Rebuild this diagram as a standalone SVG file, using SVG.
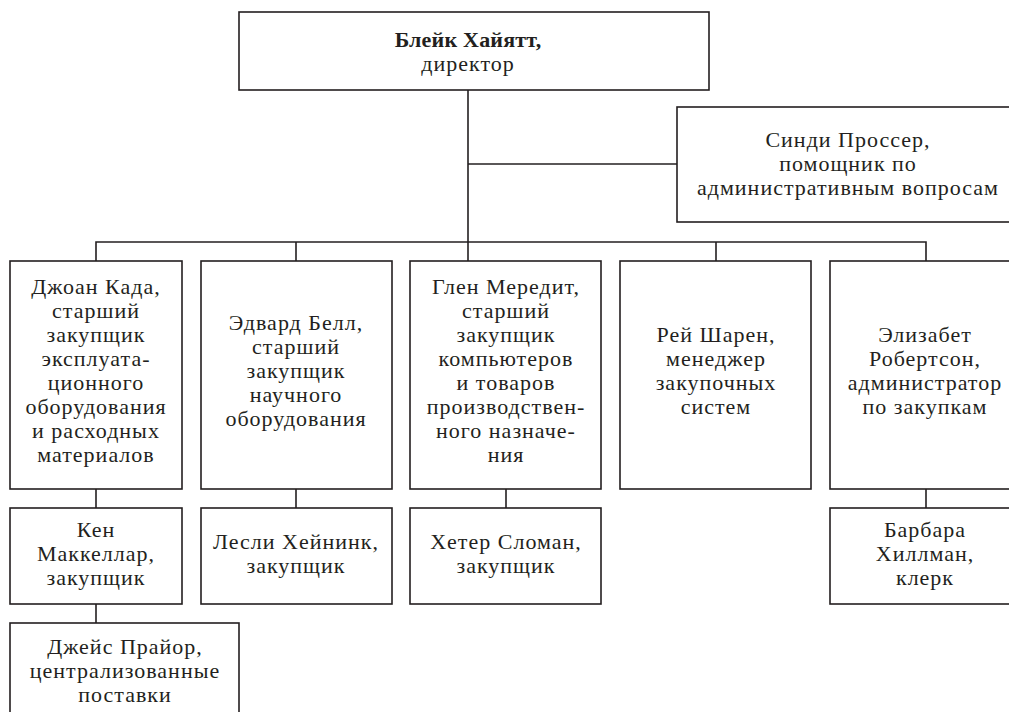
<svg xmlns="http://www.w3.org/2000/svg" width="1009" height="712" viewBox="0 0 1009 712">
  <style>
    .box { fill: #fff; stroke: #231f20; stroke-width: 1.6; }
    .wire { fill: none; stroke: #231f20; stroke-width: 1.6; }
    text { font-family: "Liberation Serif", "DejaVu Serif", serif; font-size: 22px; letter-spacing: 1px; fill: #231f20; text-anchor: middle; }
    .b { font-weight: bold; letter-spacing: 0.2px; }
  </style>
  <rect width="1009" height="712" fill="#fff"/>

  <!-- connectors -->
  <g id="connectors">
    <path class="wire" d="M468 90 V261"/>
    <path class="wire" d="M468 164 H677"/>
    <path class="wire" d="M96 261 V242 H926 V261"/>
    <path class="wire" d="M296 242 V261"/>
    <path class="wire" d="M716 242 V261"/>
    <path class="wire" d="M96 489 V508"/>
    <path class="wire" d="M296 489 V508"/>
    <path class="wire" d="M506 489 V508"/>
    <path class="wire" d="M926 489 V508"/>
    <path class="wire" d="M96 604 V623"/>
  </g>

  <g id="director">
    <rect class="box" x="239" y="12" width="470" height="78"/>
    <text x="468" y="47" class="b">Блейк Хайятт,</text>
    <text x="468" y="71">директор</text>
  </g>

  <g id="assistant">
    <rect class="box" x="677" y="107" width="343" height="115"/>
    <text x="848" y="147">Синди Проссер,</text>
    <text x="848" y="171">помощник по</text>
    <text x="848" y="195">административным вопросам</text>
  </g>

  <g id="kada">
    <rect class="box" x="10" y="261" width="172" height="228"/>
    <text x="96" y="294">Джоан Када,</text>
    <text x="96" y="318">старший</text>
    <text x="96" y="342">закупщик</text>
    <text x="96" y="366">эксплуата-</text>
    <text x="96" y="390">ционного</text>
    <text x="96" y="414">оборудования</text>
    <text x="96" y="438">и расходных</text>
    <text x="96" y="462">материалов</text>
  </g>

  <g id="bell">
    <rect class="box" x="201" y="261" width="191" height="228"/>
    <text x="296" y="330">Эдвард Белл,</text>
    <text x="296" y="354">старший</text>
    <text x="296" y="378">закупщик</text>
    <text x="296" y="402">научного</text>
    <text x="296" y="426">оборудования</text>
  </g>

  <g id="meredith">
    <rect class="box" x="410" y="261" width="191" height="228"/>
    <text x="506" y="294">Глен Мередит,</text>
    <text x="506" y="318">старший</text>
    <text x="506" y="342">закупщик</text>
    <text x="506" y="366">компьютеров</text>
    <text x="506" y="390">и товаров</text>
    <text x="506" y="414">производствен-</text>
    <text x="506" y="438">ного назначе-</text>
    <text x="506" y="462">ния</text>
  </g>

  <g id="sharen">
    <rect class="box" x="620" y="261" width="191" height="228"/>
    <text x="716" y="342">Рей Шарен,</text>
    <text x="716" y="366">менеджер</text>
    <text x="716" y="390">закупочных</text>
    <text x="716" y="414">систем</text>
  </g>

  <g id="robertson">
    <rect class="box" x="830" y="261" width="190" height="228"/>
    <text x="925" y="342">Элизабет</text>
    <text x="925" y="366">Робертсон,</text>
    <text x="925" y="390">администратор</text>
    <text x="925" y="414">по закупкам</text>
  </g>

  <g id="mackellar">
    <rect class="box" x="10" y="508" width="172" height="96"/>
    <text x="96" y="537">Кен</text>
    <text x="96" y="561">Маккеллар,</text>
    <text x="96" y="585">закупщик</text>
  </g>

  <g id="heinink">
    <rect class="box" x="201" y="508" width="191" height="96"/>
    <text x="296" y="549">Лесли Хейнинк,</text>
    <text x="296" y="573">закупщик</text>
  </g>

  <g id="sloman">
    <rect class="box" x="410" y="508" width="191" height="96"/>
    <text x="506" y="549">Хетер Сломан,</text>
    <text x="506" y="573">закупщик</text>
  </g>

  <g id="hillman">
    <rect class="box" x="830" y="508" width="190" height="96"/>
    <text x="925" y="537">Барбара</text>
    <text x="925" y="561">Хиллман,</text>
    <text x="925" y="585">клерк</text>
  </g>

  <g id="pryor">
    <rect class="box" x="10" y="623" width="229" height="96"/>
    <text x="125" y="654">Джейс Прайор,</text>
    <text x="125" y="678">централизованные</text>
    <text x="125" y="702">поставки</text>
  </g>
</svg>
